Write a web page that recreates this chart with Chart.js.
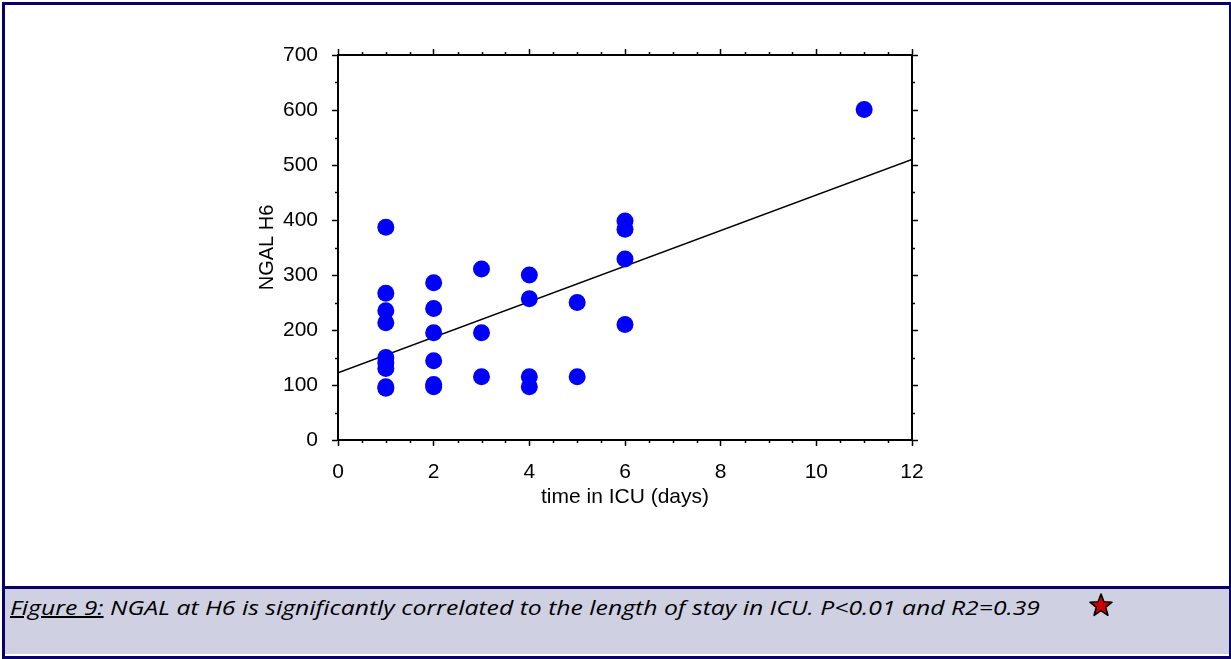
<!DOCTYPE html>
<html>
<head>
<meta charset="utf-8">
<script src="https://cdn.jsdelivr.net/npm/chart.js@4.4.1/dist/chart.umd.min.js"></script>
<style>
    body { margin: 0; background: #fff; }
    #wrap { position: relative; width: 1231px; height: 659px; overflow: hidden; }
    #myChart { position: absolute; left: 0; top: 0; }
    #frame {
        position: absolute; left: 2px; top: 2px; width: 1229px; height: 657px;
        box-sizing: border-box; border: 3px solid #0b0068; border-right-width: 2px;
    }
    #caption {
        position: absolute; left: 5px; top: 586px; width: 1224px; height: 68px;
        background: #cfd0e2; border-top: 3px solid #0b0068; box-sizing: border-box;
    }
    #captionText {
        position: absolute; left: 5px; top: 5px; white-space: nowrap; transform-origin: 0 0;
        font-family: "Open Sans", sans-serif; font-style: italic; font-size: 20px; color: #000;
    }
    #star { position: absolute; left: 1083px; top: 3px; }
</style>
</head>
<body>
<div id="wrap">
    <canvas id="myChart" width="1231" height="586"></canvas>
    <div id="caption">
        <div id="captionText"><u>Figure 9:</u> NGAL at H6 is significantly correlated to the length of stay in ICU. P&lt;0.01 and R2=0.39</div>
        <svg id="star" width="26" height="26" viewBox="0 0 26 26">
            <polygon points="13,2 15.9,9.8 24,10.2 17.7,15.3 19.9,23.3 13,18.7 6.1,23.3 8.3,15.3 2,10.2 10.1,9.8"
                fill="#d00000" stroke="#000" stroke-width="1.6" stroke-linejoin="round"/>
        </svg>
    </div>
    <div id="frame"></div>
</div>
<script>
// time in ICU (days) and NGAL at H6, one entry per patient
const daysICU = [1, 1, 1, 1, 1, 1, 1, 1, 1,
    2, 2, 2, 2, 2, 2,
    3, 3, 3,
    4, 4, 4, 4,
    5, 5,
    6, 6, 6, 6,
    11];
const ngalH6 = [387, 267, 235, 213, 150, 140, 130, 97, 94,
    286, 239, 195, 144, 101, 97,
    311, 195, 115,
    300, 257, 115, 97,
    250, 115,
    398, 383, 329, 210,
    601];

// regression line end points
const fitX = [0, 12];
const fitY = [122, 510];

const xTicks = [0, 2, 4, 6, 8, 10, 12];
const yTicks = [0, 100, 200, 300, 400, 500, 600, 700];

const tickFont = { family: 'Liberation Sans, Arial, sans-serif', size: 21 };

// the caption in the reference is a narrow font (Calibri), stretch ours to the same run
const cap = document.getElementById('captionText');
cap.style.transform = 'scaleX(' + (1030 / cap.getBoundingClientRect().width) + ')';

let points = [];
for (let i = 0; i < daysICU.length; i++) {
    points.push({ x: daysICU[i], y: ngalH6[i] });
}
let fitLine = [];
for (let i = 0; i < fitX.length; i++) {
    fitLine.push({ x: fitX[i], y: fitY[i] });
}

// short minor ticks between the major ones, on all four sides
const minorTicks = {
    id: 'minorTicks',
    afterDraw(chart) {
        const ctx = chart.ctx;
        const area = chart.chartArea;
        const xs = chart.scales.x;
        const ys = chart.scales.y;
        ctx.save();
        ctx.strokeStyle = '#000';
        ctx.lineWidth = 1.5;
        ctx.beginPath();
        for (let v = 0.5; v < 12; v += 0.5) {
            if (v % 2 === 0) continue;
            const px = Math.round(xs.getPixelForValue(v)) + 0.5;
            ctx.moveTo(px, area.bottom); ctx.lineTo(px, area.bottom + 3);
            ctx.moveTo(px, area.top); ctx.lineTo(px, area.top - 3);
        }
        for (let v = 50; v < 700; v += 100) {
            const py = Math.round(ys.getPixelForValue(v)) + 0.5;
            ctx.moveTo(area.left, py); ctx.lineTo(area.left - 3, py);
            ctx.moveTo(area.right, py); ctx.lineTo(area.right + 3, py);
        }
        ctx.stroke();
        ctx.restore();
    }
};

function fixedTicks(values) {
    return function (scale) {
        scale.ticks = values.map(v => ({ value: v }));
    };
}

function frameGrid() {
    return {
        drawOnChartArea: false,
        drawTicks: true,
        tickLength: 6,
        tickWidth: 1.5,
        tickColor: '#000'
    };
}

const ctx = document.getElementById('myChart').getContext('2d');
new Chart(ctx, {
    type: 'scatter',
    data: {
        datasets: [
            {
                data: points,
                backgroundColor: '#0000ff',
                borderWidth: 0,
                pointRadius: 8.5,
                pointHoverRadius: 8.5
            },
            {
                type: 'line',
                data: fitLine,
                borderColor: '#000',
                borderWidth: 1.5,
                pointRadius: 0,
                fill: false
            }
        ]
    },
    plugins: [minorTicks],
    options: {
        responsive: false,
        animation: false,
        devicePixelRatio: 1,
        layout: { padding: { left: 238, right: 313, top: 49, bottom: 76 } },
        plugins: { legend: { display: false }, tooltip: { enabled: false } },
        scales: {
            x: {
                type: 'linear', position: 'bottom', min: 0, max: 12,
                afterBuildTicks: fixedTicks(xTicks),
                afterFit: function (scale) { scale.height = 70; },
                ticks: { font: tickFont, color: '#000', padding: 14, maxRotation: 0 },
                grid: frameGrid(),
                border: { color: '#000', width: 2 },
                title: { display: true, text: 'time in ICU (days)', font: tickFont, color: '#000', padding: 0 }
            },
            y: {
                type: 'linear', position: 'left', min: 0, max: 700,
                afterBuildTicks: fixedTicks(yTicks),
                afterFit: function (scale) { scale.width = 100; },
                ticks: { font: tickFont, color: '#000', padding: 14 },
                grid: frameGrid(),
                border: { color: '#000', width: 2 },
                title: {
                    display: true, text: 'NGAL H6', color: '#000',
                    font: { family: 'Liberation Sans, Arial, sans-serif', size: 20 },
                    padding: { top: 17, bottom: 0 }
                }
            },
            x2: {
                type: 'linear', position: 'top', min: 0, max: 12,
                afterBuildTicks: fixedTicks(xTicks),
                afterFit: function (scale) { scale.height = 6; },
                ticks: { display: false },
                grid: frameGrid(),
                border: { color: '#000', width: 2 }
            },
            y2: {
                type: 'linear', position: 'right', min: 0, max: 700,
                afterBuildTicks: fixedTicks(yTicks),
                afterFit: function (scale) { scale.width = 6; },
                ticks: { display: false },
                grid: frameGrid(),
                border: { color: '#000', width: 2 }
            }
        }
    }
});
</script>
</body>
</html>
